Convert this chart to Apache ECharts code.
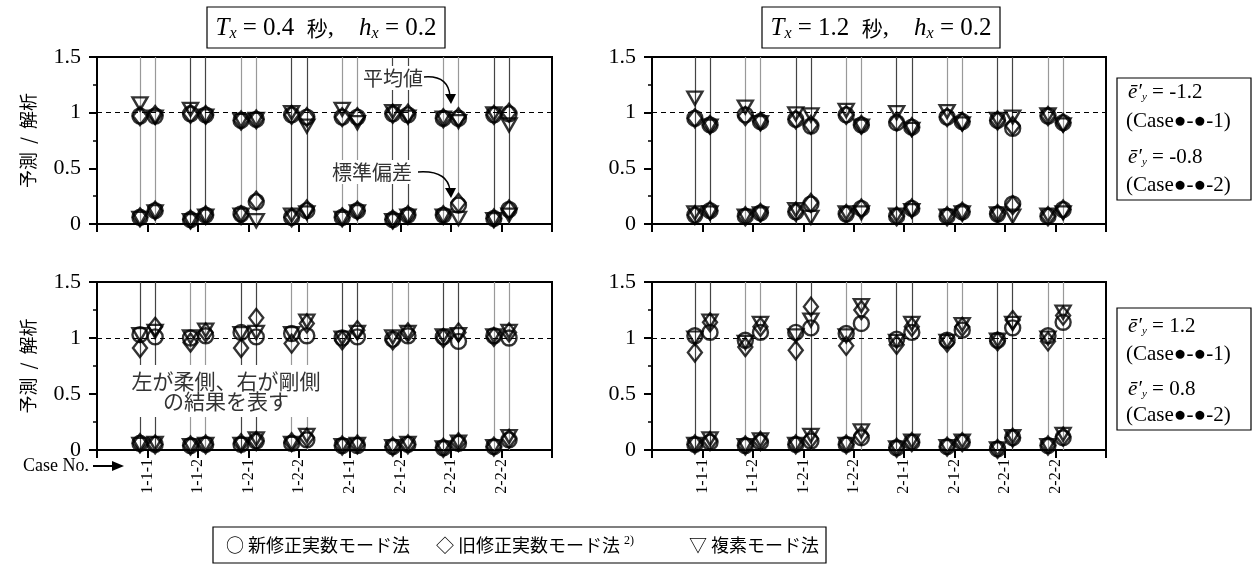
<!DOCTYPE html>
<html>
<head>
<meta charset="utf-8">
<script src="https://cdn.jsdelivr.net/npm/echarts@6/dist/echarts.min.js"></script>
<style>
    html, body { margin: 0; padding: 0; background: #fff; }
    #chart { width: 1252px; height: 572px; }
</style>
</head>
<body>
<div id="chart"></div>
<script>
// Case No. (x axis), each case has a left (柔側) and right (剛側) value
const cases = ['1-1-1', '1-1-2', '1-2-1', '1-2-2', '2-1-1', '2-1-2', '2-2-1', '2-2-2']
const yTicks = [0, 0.5, 1, 1.5]

// values are [L, R] per case, interleaved
// Tx = 0.4, ey' = -1.2 / -0.8
const tlMeanCircle = [0.97, 0.97, 0.99, 0.98, 0.93, 0.94, 0.98, 0.96, 0.96, 0.96, 0.99, 0.98, 0.95, 0.95, 0.98, 0.99]
const tlMeanDiamond = [0.97, 0.98, 0.99, 0.98, 0.93, 0.94, 0.98, 0.96, 0.96, 0.96, 0.99, 0.99, 0.95, 0.96, 0.98, 1.00]
const tlMeanTri = [1.08, 0.96, 1.03, 0.97, 0.93, 0.94, 1.00, 0.88, 1.03, 0.91, 1.01, 0.96, 0.95, 0.92, 0.99, 0.89]
const tlStdCircle = [0.06, 0.12, 0.04, 0.08, 0.09, 0.20, 0.06, 0.12, 0.06, 0.12, 0.04, 0.08, 0.08, 0.17, 0.05, 0.13]
const tlStdDiamond = [0.06, 0.12, 0.04, 0.08, 0.08, 0.21, 0.06, 0.13, 0.06, 0.12, 0.04, 0.08, 0.08, 0.19, 0.05, 0.13]
const tlStdTri = [0.05, 0.11, 0.03, 0.07, 0.08, 0.03, 0.08, 0.10, 0.05, 0.11, 0.03, 0.07, 0.07, 0.05, 0.04, 0.08]

// Tx = 1.2, ey' = -1.2 / -0.8
const trMeanCircle = [0.95, 0.89, 0.98, 0.92, 0.94, 0.88, 0.98, 0.89, 0.91, 0.87, 0.96, 0.92, 0.93, 0.86, 0.97, 0.91]
const trMeanDiamond = [0.95, 0.89, 0.97, 0.92, 0.94, 0.89, 0.98, 0.89, 0.92, 0.87, 0.96, 0.92, 0.93, 0.88, 0.97, 0.91]
const trMeanTri = [1.13, 0.88, 1.05, 0.91, 0.99, 0.98, 1.02, 0.88, 1.00, 0.85, 1.01, 0.90, 0.94, 0.96, 0.98, 0.89]
const trStdCircle = [0.08, 0.12, 0.07, 0.10, 0.11, 0.18, 0.09, 0.14, 0.07, 0.14, 0.07, 0.11, 0.09, 0.18, 0.07, 0.13]
const trStdDiamond = [0.08, 0.12, 0.07, 0.10, 0.11, 0.19, 0.09, 0.14, 0.07, 0.14, 0.07, 0.11, 0.09, 0.17, 0.07, 0.13]
const trStdTri = [0.10, 0.10, 0.07, 0.09, 0.13, 0.06, 0.10, 0.10, 0.08, 0.12, 0.07, 0.10, 0.09, 0.07, 0.08, 0.10]

// Tx = 0.4, ey' = 1.2 / 0.8
const blMeanCircle = [1.03, 1.01, 1.00, 1.02, 1.05, 1.01, 1.04, 1.02, 1.00, 1.01, 0.99, 1.02, 1.01, 0.97, 1.02, 1.00]
const blMeanDiamond = [0.91, 1.10, 0.96, 1.05, 0.91, 1.18, 0.95, 1.13, 0.98, 1.07, 0.98, 1.05, 1.00, 1.05, 1.01, 1.05]
const blMeanTri = [1.03, 1.06, 1.01, 1.07, 1.04, 1.05, 1.04, 1.15, 1.00, 1.05, 1.01, 1.05, 1.02, 1.03, 1.02, 1.06]
const blStdCircle = [0.06, 0.05, 0.04, 0.05, 0.05, 0.08, 0.06, 0.09, 0.04, 0.04, 0.03, 0.05, 0.02, 0.06, 0.03, 0.09]
const blStdDiamond = [0.06, 0.05, 0.04, 0.05, 0.06, 0.08, 0.07, 0.11, 0.04, 0.05, 0.03, 0.05, 0.02, 0.07, 0.03, 0.10]
const blStdTri = [0.05, 0.06, 0.04, 0.05, 0.05, 0.10, 0.06, 0.13, 0.04, 0.05, 0.03, 0.06, 0.02, 0.07, 0.03, 0.12]

// Tx = 1.2, ey' = 1.2 / 0.8
const brMeanCircle = [1.02, 1.05, 0.98, 1.05, 1.05, 1.09, 1.04, 1.13, 0.99, 1.05, 0.98, 1.07, 0.98, 1.09, 1.02, 1.14]
const brMeanDiamond = [0.87, 1.14, 0.92, 1.10, 0.89, 1.28, 0.93, 1.25, 0.94, 1.10, 0.96, 1.10, 0.97, 1.16, 0.97, 1.20]
const brMeanTri = [1.00, 1.15, 0.96, 1.13, 1.02, 1.16, 1.02, 1.29, 0.97, 1.13, 0.97, 1.12, 0.98, 1.13, 1.00, 1.23]
const brStdCircle = [0.05, 0.07, 0.04, 0.07, 0.05, 0.08, 0.05, 0.11, 0.02, 0.07, 0.03, 0.07, 0.01, 0.11, 0.04, 0.11]
const brStdDiamond = [0.05, 0.08, 0.04, 0.08, 0.05, 0.10, 0.05, 0.13, 0.02, 0.07, 0.03, 0.07, 0.01, 0.11, 0.04, 0.12]
const brStdTri = [0.05, 0.10, 0.04, 0.09, 0.05, 0.13, 0.05, 0.17, 0.02, 0.08, 0.03, 0.08, 0.01, 0.12, 0.04, 0.14]

const panels = [
    {circle: [tlMeanCircle, tlStdCircle], diamond: [tlMeanDiamond, tlStdDiamond], tri: [tlMeanTri, tlStdTri], darkFirst: false},
    {circle: [trMeanCircle, trStdCircle], diamond: [trMeanDiamond, trStdDiamond], tri: [trMeanTri, trStdTri], darkFirst: true},
    {circle: [blMeanCircle, blStdCircle], diamond: [blMeanDiamond, blStdDiamond], tri: [blMeanTri, blStdTri], darkFirst: true},
    {circle: [brMeanCircle, brStdCircle], diamond: [brMeanDiamond, brStdDiamond], tri: [brMeanTri, brStdTri], darkFirst: true}
]

const SERIF = '"Liberation Serif", "Times New Roman", serif'
const CJK = '"Noto Sans CJK JP", sans-serif'

// left / right side offset around each case position
const xPos = []
cases.forEach((c, i) => {
    xPos.push(i + 1 - 0.15)
    xPos.push(i + 1 + 0.15)
})

const grids = [
    {left: 97, top: 57, width: 455, height: 167},
    {left: 652, top: 57, width: 454, height: 167},
    {left: 97, top: 282, width: 455, height: 168},
    {left: 652, top: 282, width: 454, height: 168}
]

const xAxes = grids.map((g, i) => ({
    type: 'value',
    gridIndex: i,
    min: 0,
    max: cases.length + 1,
    interval: 1,
    splitLine: {show: false},
    axisLine: {lineStyle: {color: '#000', width: 2}},
    axisTick: {length: 8, lineStyle: {color: '#000', width: 2}},
    axisLabel: {
        show: i >= 2,
        rotate: 90,
        margin: 9,
        color: '#000',
        fontFamily: SERIF,
        fontSize: 16,
        formatter: v => cases[v - 1] || ''
    }
}))

const yAxes = grids.map((g, i) => ({
    type: 'value',
    gridIndex: i,
    min: yTicks[0],
    max: yTicks[yTicks.length - 1],
    interval: 0.5,
    splitLine: {show: false},
    axisLine: {lineStyle: {color: '#000', width: 2}},
    axisTick: {length: 8, lineStyle: {color: '#000', width: 2}},
    minorTick: {show: true, splitNumber: 2, length: 4, lineStyle: {color: '#000', width: 1.5}},
    axisLabel: {color: '#000', fontFamily: SERIF, fontSize: 22, margin: 16},
    name: i % 2 === 0 ? '予測  /  解析' : '',
    nameLocation: 'middle',
    nameRotate: 90,
    nameGap: 60,
    nameTextStyle: {color: '#000', fontFamily: CJK, fontSize: 18}
}))

const markerStyle = {color: 'rgba(255,255,255,0)', borderColor: '#000', borderWidth: 2.4}
const series = []

panels.forEach((p, i) => {
    const pts = arr => xPos.map((x, k) => [x, arr[0][k]]).concat(xPos.map((x, k) => [x, arr[1][k]]))
    // vertical guide lines + dashed line at 1
    const lines = xPos.map((x, k) => {
        let dark = (Math.floor(k / 2) % 2 === 0) === p.darkFirst
        return {xAxis: x, lineStyle: {color: dark ? '#444' : '#999', width: 1.2, type: 'solid'}}
    })
    lines.push({yAxis: 1, lineStyle: {color: '#000', width: 1, type: [5, 4]}})

    series.push({
        type: 'scatter', name: 'circle', xAxisIndex: i, yAxisIndex: i,
        symbol: 'circle', symbolSize: 15, itemStyle: markerStyle,
        data: pts(p.circle), z: 3,
        markLine: {silent: true, z: 1, symbol: ['none', 'none'], label: {show: false}, animation: false, data: lines}
    })
    series.push({
        type: 'scatter', name: 'diamond', xAxisIndex: i, yAxisIndex: i,
        symbol: 'diamond', symbolSize: [14, 18], itemStyle: markerStyle,
        data: pts(p.diamond), z: 4
    })
    series.push({
        type: 'scatter', name: 'tri', xAxisIndex: i, yAxisIndex: i,
        symbol: 'triangle', symbolRotate: 180, symbolSize: [15, 13], itemStyle: markerStyle,
        data: pts(p.tri), z: 5
    })
})

const titleRich = {
    it: {fontFamily: SERIF, fontStyle: 'italic', fontSize: 25, color: '#000'},
    n: {fontFamily: SERIF, fontSize: 25, color: '#000'},
    cjk: {fontFamily: CJK, fontSize: 21, color: '#000'},
    sub: {fontFamily: SERIF, fontStyle: 'italic', fontSize: 16, color: '#000', padding: [12, 0, 0, 0]}
}
const eyRich = {
    it: {fontFamily: SERIF, fontStyle: 'italic', fontSize: 21, color: '#000'},
    n: {fontFamily: SERIF, fontSize: 21, color: '#000'},
    sub: {fontFamily: SERIF, fontStyle: 'italic', fontSize: 11, color: '#000', padding: [11, 0, 0, 0]}
}

function box(x, y, w, h) {
    return {type: 'rect', shape: {x: x, y: y, width: w, height: h}, style: {fill: '#fff', stroke: '#000', lineWidth: 1.2}, z: 100}
}
function txt(x, y, text, extra) {
    return {type: 'text', x: x, y: y, z: 101, style: Object.assign({text: text, fill: '#000', verticalAlign: 'middle'}, extra)}
}

const graphic = [
    box(207, 7, 238, 41),
    txt(326, 28, '{it|T}{sub|x}{n| = 0.4  }{cjk|秒}{n|,    }{it|h}{sub|x}{n| = 0.2}', {align: 'center', rich: titleRich}),
    box(762, 7, 238, 41),
    txt(881, 28, '{it|T}{sub|x}{n| = 1.2  }{cjk|秒}{n|,    }{it|h}{sub|x}{n| = 0.2}', {align: 'center', rich: titleRich}),

    box(1117, 78, 134, 122),
    txt(1128, 92, '{it|ē′}{sub|y}{n| = -1.2}', {rich: eyRich}),
    txt(1126, 121, '(Case●-●-1)', {font: '21px ' + SERIF}),
    txt(1128, 157, '{it|ē′}{sub|y}{n| = -0.8}', {rich: eyRich}),
    txt(1126, 185, '(Case●-●-2)', {font: '21px ' + SERIF}),

    box(1117, 308, 134, 122),
    txt(1128, 326, '{it|ē′}{sub|y}{n| = 1.2}', {rich: eyRich}),
    txt(1126, 354, '(Case●-●-1)', {font: '21px ' + SERIF}),
    txt(1128, 389, '{it|ē′}{sub|y}{n| = 0.8}', {rich: eyRich}),
    txt(1126, 415, '(Case●-●-2)', {font: '21px ' + SERIF}),

    // annotations inside the top-left panel
    txt(361, 78, '平均値', {font: '20px ' + CJK, fill: '#333', backgroundColor: '#fff', padding: [2, 2]}),
    {type: 'bezierCurve', z: 101, shape: {x1: 424, y1: 77, cpx1: 448, cpy1: 75, x2: 450, y2: 96}, style: {stroke: '#000', lineWidth: 1.5, fill: null}},
    {type: 'polygon', z: 101, shape: {points: [[451, 104], [445, 94], [456, 94]]}, style: {fill: '#000'}},
    txt(330, 172, '標準偏差', {font: '20px ' + CJK, fill: '#333', backgroundColor: '#fff', padding: [2, 2]}),
    {type: 'bezierCurve', z: 101, shape: {x1: 418, y1: 172, cpx1: 447, cpy1: 170, x2: 450, y2: 190}, style: {stroke: '#000', lineWidth: 1.5, fill: null}},
    {type: 'polygon', z: 101, shape: {points: [[451, 198], [445, 188], [456, 188]]}, style: {fill: '#000'}},

    // note inside the bottom-left panel
    txt(226, 391, '左が柔側、右が剛側\nの結果を表す', {font: '21px ' + CJK, fill: '#333', align: 'center', lineHeight: 20, backgroundColor: '#fff', padding: [6, 2]}),

    // Case No. arrow
    txt(89, 466, 'Case No.', {font: '18px ' + SERIF, align: 'right'}),
    {type: 'line', z: 101, shape: {x1: 93, y1: 466, x2: 114, y2: 466}, style: {stroke: '#000', lineWidth: 2}},
    {type: 'polygon', z: 101, shape: {points: [[124, 466], [112, 461], [112, 471]]}, style: {fill: '#000'}},

    // legend
    box(213, 527, 613, 36),
    txt(226, 545, '○ 新修正実数モード法', {font: '18px ' + CJK}),
    txt(436, 545, '◇ 旧修正実数モード法 {sup|2)}', {font: '18px ' + CJK, rich: {sup: {fontFamily: SERIF, fontSize: 12, padding: [0, 0, 8, 0]}}}),
    txt(689, 545, '▽ 複素モード法', {font: '18px ' + CJK})
]

const chart = echarts.init(document.getElementById('chart'))
chart.setOption({
    animation: false,
    backgroundColor: '#fff',
    grid: grids.map(g => Object.assign({show: true, borderColor: '#000', borderWidth: 2, backgroundColor: 'transparent'}, g)),
    xAxis: xAxes,
    yAxis: yAxes,
    series: series,
    graphic: graphic
})
</script>
</body>
</html>
